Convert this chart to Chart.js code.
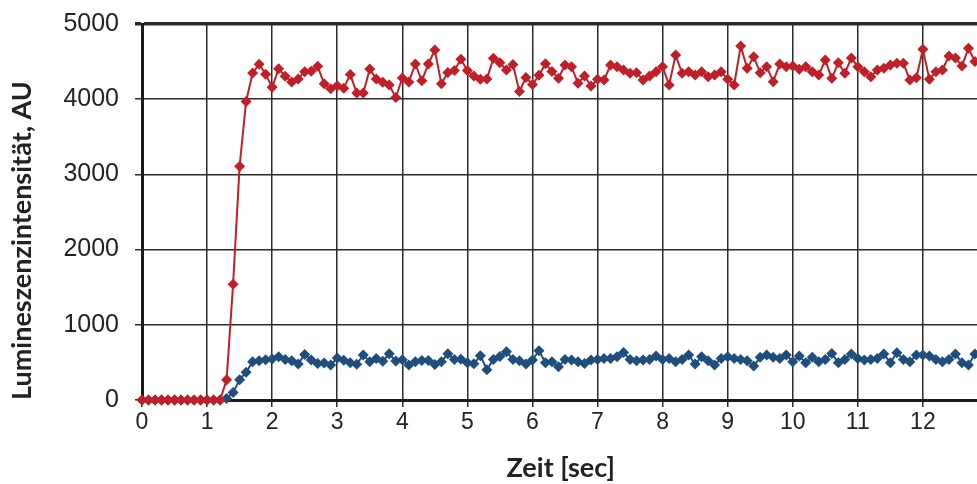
<!DOCTYPE html>
<html>
<head>
<meta charset="utf-8">
<script src="https://cdn.jsdelivr.net/npm/chart.js@4/dist/chart.umd.min.js"></script>
<style>
html,body{margin:0;padding:0;background:#fff;overflow:hidden;}
#wrap{width:977px;height:484px;position:relative;overflow:hidden;}
#c{position:absolute;left:0;top:0;}
</style>
</head>
<body>
<div id="wrap"><canvas id="c" width="985" height="484"></canvas></div>
<script>
const times = [0.0,0.1,0.2,0.3,0.4,0.5,0.6,0.7,0.8,0.9,1.0,1.1,1.2,1.3,1.4,1.5,1.6,1.7,1.8,1.9,
2.0,2.1,2.2,2.3,2.4,2.5,2.6,2.7,2.8,2.9,3.0,3.1,3.2,3.3,3.4,3.5,3.6,3.7,3.8,3.9,
4.0,4.1,4.2,4.3,4.4,4.5,4.6,4.7,4.8,4.9,5.0,5.1,5.2,5.3,5.4,5.5,5.6,5.7,5.8,5.9,
6.0,6.1,6.2,6.3,6.4,6.5,6.6,6.7,6.8,6.9,7.0,7.1,7.2,7.3,7.4,7.5,7.6,7.7,7.8,7.9,
8.0,8.1,8.2,8.3,8.4,8.5,8.6,8.7,8.8,8.9,9.0,9.1,9.2,9.3,9.4,9.5,9.6,9.7,9.8,9.9,
10.0,10.1,10.2,10.3,10.4,10.5,10.6,10.7,10.8,10.9,11.0,11.1,11.2,11.3,11.4,11.5,11.6,11.7,11.8,11.9,
12.0,12.1,12.2,12.3,12.4,12.5,12.6,12.7,12.8];

const redSeries = [0,0,0,0,0,0,0,0,0,0,0,0,0,270,1540,3110,3970,4350,4465,4333,
4158,4405,4305,4230,4270,4366,4372,4437,4205,4138,4178,4145,4330,4083,4083,4400,4270,4227,4189,4022,
4282,4230,4468,4245,4468,4654,4206,4355,4383,4530,4383,4310,4264,4270,4543,4484,4388,4460,4101,4290,
4195,4318,4472,4370,4277,4455,4432,4211,4308,4176,4264,4255,4455,4432,4388,4344,4353,4255,4308,4366,
4432,4189,4587,4344,4366,4322,4366,4300,4322,4366,4264,4189,4707,4410,4565,4353,4432,4233,4468,4432,
4441,4397,4432,4366,4322,4521,4277,4486,4344,4548,4432,4366,4300,4388,4410,4455,4477,4477,4255,4286,
4663,4264,4366,4388,4574,4548,4441,4676,4500];

const blueSeries = [0,0,0,0,0,0,0,0,0,0,0,0,0,20,100,270,370,510,522,535,
545,575,540,522,480,605,531,487,492,465,560,527,496,476,598,510,553,516,615,518,
535,465,509,526,526,472,509,615,540,542,496,482,590,403,540,580,642,540,522,478,
531,656,496,509,443,540,531,509,487,531,540,553,553,576,630,540,522,531,540,585,
540,553,509,540,598,478,576,522,465,553,576,553,540,522,452,567,598,567,553,598,
509,585,496,567,509,540,620,496,540,611,553,531,540,553,611,496,629,540,509,598,
598,585,540,509,540,611,496,465,611];

const xTicks = [0,1,2,3,4,5,6,7,8,9,10,11,12];
const yTicks = [0,1000,2000,3000,4000,5000];

const toPts = (arr) => arr.map((v, i) => ({x: times[i], y: v}));

new Chart(document.getElementById('c'), {
  type: 'line',
  data: {
    datasets: [
      {
        label: 'blau',
        data: toPts(blueSeries),
        borderColor: '#1f4e7c',
        backgroundColor: '#1f4e7c',
        borderWidth: 2,
        pointStyle: 'rectRot',
        pointRadius: 5.5,
        pointBorderWidth: 0,
        tension: 0,
        order: 2
      },
      {
        label: 'rot',
        data: toPts(redSeries),
        borderColor: '#c01f2a',
        backgroundColor: '#c01f2a',
        borderWidth: 2,
        pointStyle: 'rectRot',
        pointRadius: 5.5,
        pointBorderWidth: 0,
        tension: 0,
        order: 1
      }
    ]
  },
  options: {
    responsive: false,
    animation: false,
    clip: false,
    layout: {padding: {top: 24, right: 0, left: 0, bottom: 0}},
    plugins: {legend: {display: false}, tooltip: {enabled: false}},
    scales: {
      x: {
        type: 'linear',
        min: 0,
        max: 12.87,
        afterBuildTicks: (s) => { s.ticks = xTicks.map(v => ({value: v})); },
        afterFit: (s) => { s.height = 84; s.paddingLeft = 0; s.paddingRight = 0; },
        border: {display: true, color: '#1a1a1a', width: 3},
        grid: {color: '#2b2b2b', lineWidth: 1.5, tickLength: 7, drawTicks: true},
        ticks: {color: '#222', font: {family: 'Liberation Sans', size: 23}, padding: 2, maxRotation: 0, autoSkip: false},
        title: {display: true, text: 'Zeit [sec]', color: '#222', font: {family: 'Lato', size: 27, weight: 'bold'}, padding: {top: 0, bottom: 0}}
      },
      y: {
        type: 'linear',
        min: 0,
        max: 5000,
        afterBuildTicks: (s) => { s.ticks = yTicks.map(v => ({value: v})); },
        afterFit: (s) => { s.width = 142; s.paddingTop = 0; s.paddingBottom = 0; s.paddingRight = 0; s.paddingLeft = 0; },
        border: {display: true, color: '#1a1a1a', width: 3},
        grid: {
          color: '#2b2b2b',
          lineWidth: (ctx) => (ctx.tick && ctx.tick.value === 5000) ? 3.5 : 1.5,
          tickLength: 7,
          drawTicks: true
        },
        ticks: {color: '#222', font: {family: 'Liberation Sans', size: 25}, padding: 16, callback: (v) => String(v)},
        title: {display: true, align: 'start', text: 'Lumineszenzintensität, AU', color: '#222', font: {family: 'Lato', size: 27, weight: 'bold'}, padding: {top: 6, bottom: 4}}
      }
    }
  }
});
</script>
</body>
</html>
